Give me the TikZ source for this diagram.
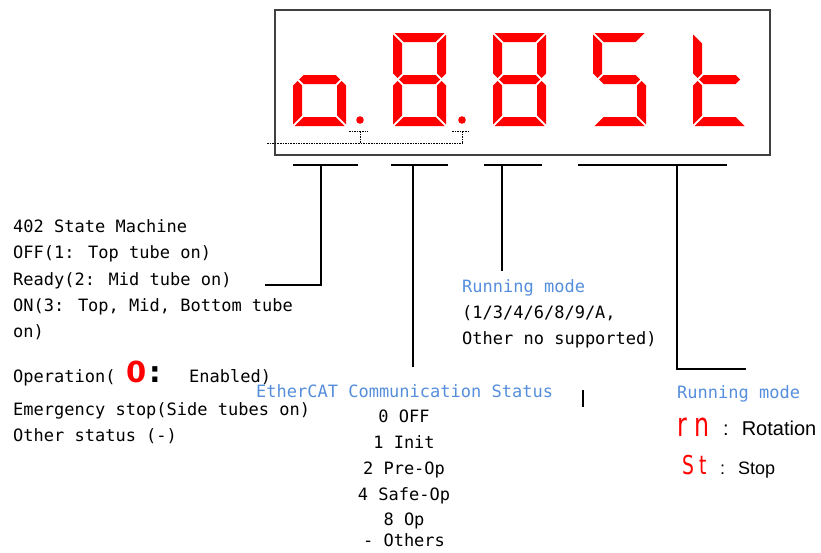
\documentclass[tikz,border=0pt]{standalone}
\usepackage{fontspec}
\usepackage{tikz}
\usetikzlibrary{positioning}
\newfontfamily\monofont{DejaVu Sans Mono}
\newfontfamily\arialfont{Liberation Sans}
\newfontfamily\heavyfont{DejaVu Sans}
\newfontfamily\narrowfont[FakeStretch=0.72]{DejaVu Sans}
\definecolor{segred}{RGB}{255,0,0}
\definecolor{modeblue}{RGB}{85,142,220}
\definecolor{framegray}{RGB}{64,64,64}

% segments of one digit, 53 x 93
\newcommand\segA{(1.5,0)--(51.5,0)--(42.5,9)--(10.5,9)--cycle}
\newcommand\segB{(53,1.5)--(53,40.5)--(48.5,45)--(44,40.5)--(44,10.5)--cycle}
\newcommand\segC{(53,91.5)--(44,82.5)--(44,52.5)--(48.5,48)--(53,52.5)--cycle}
\newcommand\segD{(1.5,93)--(51.5,93)--(42.5,84)--(10.5,84)--cycle}
\newcommand\segE{(0,91.5)--(9,82.5)--(9,52.5)--(4.5,48)--(0,52.5)--cycle}
\newcommand\segF{(0,1.5)--(9,10.5)--(9,40.5)--(4.5,45)--(0,40.5)--cycle}
\newcommand\segG{(6,46.5)--(10.5,42)--(42.5,42)--(47,46.5)--(42.5,51)--(10.5,51)--cycle}

\tikzset{
	mono/.style={font=\monofont\fontsize{17}{20}\selectfont, inner sep=0pt, anchor=base west},
	monoc/.style={mono, anchor=base},
	bluetxt/.style={mono, text=modeblue},
	bigzero/.style={font=\heavyfont\bfseries\fontsize{29}{30}\selectfont, text=segred, inner sep=0pt, anchor=base west},
	bigcolon/.style={font=\heavyfont\bfseries\fontsize{29}{30}\selectfont, inner sep=0pt, anchor=base west},
	redletter/.style={font=\narrowfont\fontsize{#1}{#1}\selectfont, text=segred, inner sep=0pt, anchor=base west},
	plainsans/.style={font=\arialfont\fontsize{#1}{#1}\selectfont, inner sep=0pt, anchor=base west},
	leader/.style={line width=1.2pt, black},
	underbar/.style={line width=1.2pt, black},
	dotline/.style={line width=1pt, dash pattern=on 1.6pt off 1pt},
	pics/sevenseg/.style={code={
		\foreach \s in {#1} {\fill[segred] \csname seg\s\endcsname;}
	}}
}

\begin{document}
\begin{tikzpicture}[x=1pt,y=-1pt]
	\useasboundingbox (0,0) rectangle (821,552);
	% display
	\draw[framegray, line width=1.6pt] (275,10) rectangle (770,155);
	\pic at (293,33) {sevenseg={G,C,D,E}};
	\pic at (393,33) {sevenseg={A,B,C,D,E,F,G}};
	\pic at (493,33) {sevenseg={A,B,C,D,E,F,G}};
	\pic at (593,33) {sevenseg={A,F,G,C,D}};
	\begin{scope}[shift={(693,33)}, xscale=0.81]
		\pic {sevenseg={F,E,G,D}};
	\end{scope}
	\fill[segred] (360,120) circle[radius=3.8];
	\fill[segred] (462,120) circle[radius=3.8];
	\draw[dotline] (349,131) -- (368,131);
	\draw[dotline] (452,131) -- (470,131);
	\draw[dotline] (360,131) -- (360,143);
	\draw[dotline] (462,131) -- (462,143);
	\draw[dotline] (267,143) -- (463,143);
	% bars under the display
	\draw[underbar] (293,165) -- (358,165);
	\draw[underbar] (391,165) -- (448,165);
	\draw[underbar] (484,165) -- (542,165);
	\draw[underbar] (578,165) -- (727,165);
	\coordinate (tickstate) at (321,165);
	\coordinate (tickecat) at (413,165);
	\coordinate (tickmode) at (502,165);
	\coordinate (tickrun) at (677,165);
	\coordinate (stateend) at (265,285);
	\coordinate (ecatend) at (413,367);
	\coordinate (modeend) at (502,271);
	\coordinate (runend) at (746,369);
	\coordinate (straytop) at (583,390);
	\coordinate (straybot) at (583,407);
	\draw[leader] (tickstate) |- (stateend);
	\draw[leader] (tickecat) -- (ecatend);
	\draw[leader] (tickmode) -- (modeend);
	\draw[leader] (tickrun) |- (runend);
	\draw[leader] (straytop) -- (straybot);
	% state machine
	\node[mono] (statetitle) at (13,232) {402 State Machine};
	\node[mono] (stateoff) at (13,258) {OFF(1: Top tube on)};
	\node[mono] (stateready) at (13,285) {Ready(2: Mid tube on)};
	\node[mono] (stateon) at (13,311) {ON(3: Top, Mid, Bottom tube};
	\node[mono] (stateonb) at (13,337) {on)};
	\node[mono] (stateop) at (13,382) {Operation(};
	\node[bigzero] (opzero) at (126,382) {0};
	\node[bigcolon] (opcolon) at (149,382) {:};
	\node[mono] (openabled) at (189,382) {Enabled)};
	\node[mono] (stateemg) at (13,415) {Emergency stop(Side tubes on)};
	\node[mono] (stateother) at (13,441) {Other status (-)};
	% EtherCAT
	\node[bluetxt] (ecattitle) at (256,397) {EtherCAT Communication Status};
	\node[monoc] (ecatoff) at (404,422) {0 OFF};
	\node[monoc] (ecatinit) at (404,448) {1 Init};
	\node[monoc] (ecatpreop) at (404,474) {2 Pre-Op};
	\node[monoc] (ecatsafeop) at (404,500) {4 Safe-Op};
	\node[monoc] (ecatop) at (404,525) {8 Op};
	\node[monoc] (ecatothers) at (404,546) {- Others};
	% running mode
	\node[bluetxt] (modetitle) at (462,292) {Running mode};
	\node[mono] (modelist) at (462,318) {(1/3/4/6/8/9/A,};
	\node[mono] (modenote) at (462,344) {Other no supported)};
	\node[bluetxt] (runtitle) at (677,398) {Running mode};
	\node[redletter=33] (runrn) at (677,436) {r\hspace{8pt}n};
	\node[plainsans=20] (runrot) at (723,435) {:\hspace{13pt}Rotation};
	\node[redletter=26] (runst) at (682,474) {S\hspace{5pt}t};
	\node[plainsans=18] (runstop) at (720,474) {:\hspace{13pt}Stop};
\end{tikzpicture}
\end{document}
